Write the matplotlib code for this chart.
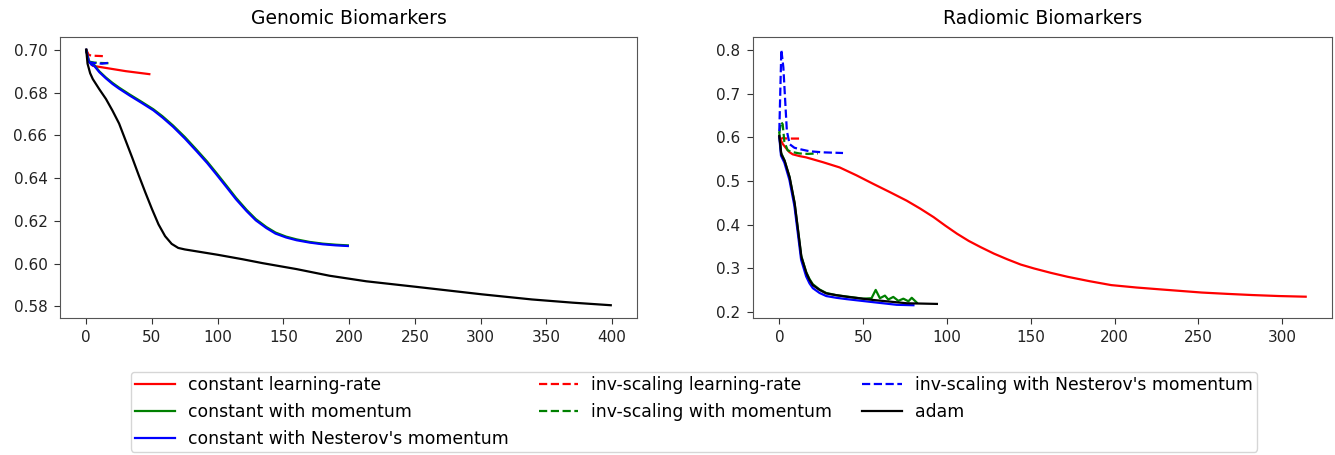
import matplotlib
matplotlib.use("Agg")
import matplotlib.pyplot as plt

labels = ["constant learning-rate", "constant with momentum",
          "constant with Nesterov's momentum", "inv-scaling learning-rate",
          "inv-scaling with momentum", "inv-scaling with Nesterov's momentum",
          "adam"]
colors = ["red", "green", "blue", "red", "green", "blue", "black"]
styles = ["-", "-", "-", "--", "--", "--", "-"]
titles = ["Genomic Biomarkers", "Radiomic Biomarkers"]

# ---- Genomic Biomarkers ----
gen_const_lr_x = [0, 2, 5, 15, 30, 48]
gen_const_lr_y = [0.700, 0.6945, 0.6925, 0.6915, 0.6900, 0.6886]

gen_const_mom_x = [0, 2, 4, 6, 10, 15, 20, 25, 33, 42, 51, 58, 66, 75, 84, 92, 99,
                   107, 114, 122, 129, 137, 144, 152, 160, 170, 180, 190, 199]
gen_const_mom_y = [0.700, 0.6948, 0.6934, 0.6929, 0.6899, 0.6870, 0.6845, 0.6823,
                   0.6791, 0.6757, 0.6722, 0.6689, 0.6646, 0.6592, 0.6532, 0.6477,
                   0.6424, 0.6362, 0.6307, 0.6251, 0.6208, 0.6171, 0.6145, 0.6126,
                   0.6113, 0.6101, 0.6093, 0.6088, 0.6085]

gen_const_nest_x = [0, 2, 4, 6, 10, 15, 20, 25, 33, 42, 51, 58, 66, 75, 84, 92, 99,
                    107, 114, 122, 129, 137, 144, 152, 160, 170, 180, 190, 199]
gen_const_nest_y = [0.700, 0.6945, 0.6930, 0.6925, 0.6895, 0.6866, 0.6840, 0.6818,
                    0.6786, 0.6752, 0.6717, 0.6683, 0.6640, 0.6585, 0.6525, 0.6470,
                    0.6417, 0.6355, 0.6300, 0.6245, 0.6202, 0.6166, 0.6140, 0.6122,
                    0.6109, 0.6098, 0.6090, 0.6085, 0.6082]

gen_inv_lr_x = [0, 2, 6, 10, 14]
gen_inv_lr_y = [0.700, 0.6975, 0.6972, 0.6971, 0.6970]

gen_inv_mom_x = [0, 2, 6, 12, 18]
gen_inv_mom_y = [0.700, 0.6945, 0.6940, 0.6938, 0.6937]

gen_inv_nest_x = [0, 2, 6, 12, 18]
gen_inv_nest_y = [0.700, 0.6942, 0.6938, 0.6935, 0.6940]

gen_adam_x = [0, 1, 3, 5, 10, 15, 20, 25, 30, 35, 40, 45, 50, 55, 60, 65, 70, 75,
              80, 90, 100, 119, 134, 160, 185, 213, 251, 301, 339, 370, 399]
gen_adam_y = [0.700, 0.6935, 0.6890, 0.6863, 0.6815, 0.6770, 0.6715, 0.6655, 0.6575,
              0.6495, 0.6412, 0.6332, 0.6255, 0.6183, 0.6128, 0.6092, 0.6073, 0.6066,
              0.6061, 0.6051, 0.6041, 0.6020, 0.6002, 0.5974, 0.5943, 0.5917, 0.5891,
              0.5856, 0.5832, 0.5817, 0.5805]

# ---- Radiomic Biomarkers ----
rad_const_lr_x = [0, 2, 4, 6, 8, 12, 16, 26, 36, 46, 56, 66, 76, 84, 92, 99, 106,
                  113, 120, 128, 136, 144, 152, 162, 172, 185, 198, 213, 228, 240,
                  252, 267, 282, 298, 314]
rad_const_lr_y = [0.600, 0.585, 0.575, 0.566, 0.561, 0.557, 0.554, 0.543, 0.531,
                  0.513, 0.4935, 0.4745, 0.455, 0.437, 0.4175, 0.398, 0.3795, 0.363,
                  0.349, 0.334, 0.321, 0.309, 0.300, 0.290, 0.281, 0.271, 0.262,
                  0.2565, 0.252, 0.2485, 0.245, 0.242, 0.2393, 0.237, 0.2355]

rad_const_mom_x = [0, 1, 3, 6, 9, 11, 13, 16, 18, 20, 24, 28, 34, 40, 50, 55, 57.5,
                   60, 63, 65, 68, 71, 74, 77, 79, 82]
rad_const_mom_y = [0.610, 0.565, 0.548, 0.510, 0.452, 0.392, 0.330, 0.292, 0.276,
                   0.264, 0.252, 0.244, 0.239, 0.236, 0.231, 0.232, 0.251, 0.232,
                   0.238, 0.229, 0.235, 0.226, 0.231, 0.225, 0.233, 0.222]

rad_const_nest_x = [0, 1, 3, 6, 9, 11, 13, 16, 18, 20, 24, 28, 34, 40, 56, 70, 80]
rad_const_nest_y = [0.600, 0.558, 0.542, 0.503, 0.443, 0.382, 0.320, 0.282, 0.266,
                    0.255, 0.244, 0.237, 0.233, 0.230, 0.223, 0.217, 0.216]

rad_inv_lr_x = [0, 2, 5, 9, 13]
rad_inv_lr_y = [0.595, 0.598, 0.597, 0.597, 0.597]

rad_inv_mom_x = [0, 1, 2, 3, 5, 8, 12, 17, 23]
rad_inv_mom_y = [0.610, 0.635, 0.630, 0.590, 0.570, 0.566, 0.563, 0.562, 0.563]

rad_inv_nest_x = [0, 1.2, 2.4, 4.5, 6.2, 9, 12, 18, 26, 38]
rad_inv_nest_y = [0.614, 0.800, 0.760, 0.614, 0.584, 0.576, 0.573, 0.568, 0.5655, 0.564]

rad_adam_x = [0, 1.2, 3.2, 6.2, 9.2, 11.2, 13.2, 16.2, 18, 20, 24, 28, 34, 40, 56,
              76, 94]
rad_adam_y = [0.603, 0.561, 0.546, 0.508, 0.448, 0.387, 0.326, 0.289, 0.274, 0.262,
              0.251, 0.243, 0.239, 0.2355, 0.228, 0.2205, 0.219]

gen_series = [(gen_const_lr_x, gen_const_lr_y), (gen_const_mom_x, gen_const_mom_y),
              (gen_const_nest_x, gen_const_nest_y), (gen_inv_lr_x, gen_inv_lr_y),
              (gen_inv_mom_x, gen_inv_mom_y), (gen_inv_nest_x, gen_inv_nest_y),
              (gen_adam_x, gen_adam_y)]
rad_series = [(rad_const_lr_x, rad_const_lr_y), (rad_const_mom_x, rad_const_mom_y),
              (rad_const_nest_x, rad_const_nest_y), (rad_inv_lr_x, rad_inv_lr_y),
              (rad_inv_mom_x, rad_inv_mom_y), (rad_inv_nest_x, rad_inv_nest_y),
              (rad_adam_x, rad_adam_y)]

plt.rcParams['font.family'] = ['DejaVu Sans']
fig = plt.figure(figsize=(13.35, 4.55), dpi=100)
W, H = 1335, 455
ax1 = fig.add_axes([60 / W, 1 - 318 / H, 577 / W, 281 / H])
ax2 = fig.add_axes([753 / W, 1 - 318 / H, 579 / W, 281 / H])

for ax, series, title in [(ax1, gen_series, titles[0]), (ax2, rad_series, titles[1])]:
    for (xs, ys), lab, c, ls in zip(series, labels, colors, styles):
        ax.plot(xs, ys, color=c, linestyle=ls, label=lab, linewidth=1.6)
    ax.set_title(title, fontsize=13.5, pad=9)
    ax.tick_params(labelsize=11, length=4.5, pad=4.5, color="#333333",
                   labelcolor="#222222")
    for sp in ax.spines.values():
        sp.set_color("#555555")

ax1.set_yticks([0.58, 0.60, 0.62, 0.64, 0.66, 0.68, 0.70])
ax1.set_yticklabels(["0.58", "0.60", "0.62", "0.64", "0.66", "0.68", "0.70"])
ax1.set_xticks([0, 50, 100, 150, 200, 250, 300, 350, 400])
ax2.set_yticks([0.2, 0.3, 0.4, 0.5, 0.6, 0.7, 0.8])
ax2.set_xticks([0, 50, 100, 150, 200, 250, 300])

handles, labs = ax1.get_legend_handles_labels()
fig.legend(handles, labs, loc="upper left", ncol=3,
           bbox_to_anchor=(131 / W, 1 - 372 / H), borderaxespad=0,
           fontsize=12.4, labelspacing=0.5, handlelength=2.3, borderpad=0.25,
           handletextpad=0.75, columnspacing=1.75, frameon=True)

fig.savefig("out.png", dpi=100)
